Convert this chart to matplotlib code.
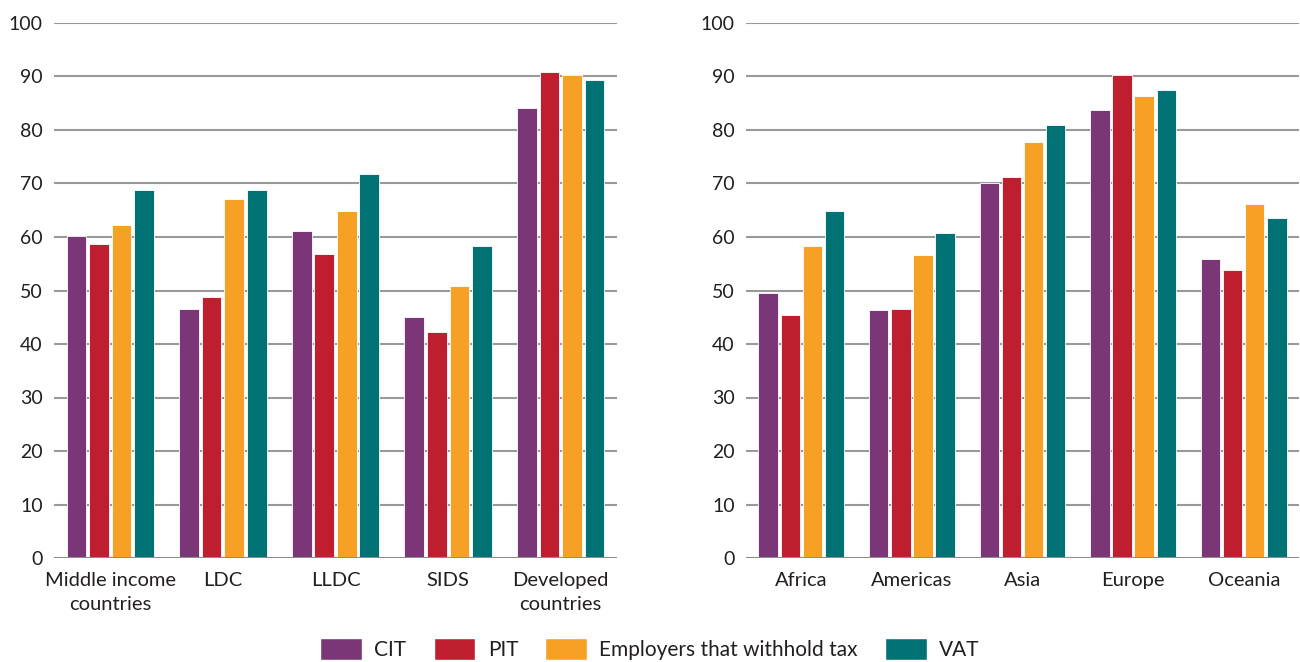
import numpy as np
import matplotlib
matplotlib.use("Agg")
import matplotlib.pyplot as plt
from matplotlib.patches import Patch

plt.rcParams['font.family'] = ['Lato', 'DejaVu Sans']

series = ["CIT", "PIT", "Employers that withhold tax", "VAT"]
colors = ["#7B3677", "#BE1E2D", "#F7A026", "#007274"]

groups_left = ["Middle income\ncountries", "LDC", "LLDC", "SIDS", "Developed\ncountries"]
left_cit = [60.1, 46.5, 61.1, 45.1, 84.1]
left_pit = [58.7, 48.7, 56.9, 42.2, 90.8]
left_emp = [62.3, 67.1, 64.9, 50.8, 90.2]
left_vat = [68.7, 68.7, 71.8, 58.4, 89.3]

groups_right = ["Africa", "Americas", "Asia", "Europe", "Oceania"]
right_cit = [49.5, 46.3, 70.0, 83.7, 55.8]
right_pit = [45.4, 46.5, 71.2, 90.2, 53.8]
right_emp = [58.3, 56.6, 77.7, 86.4, 66.1]
right_vat = [64.9, 60.7, 80.9, 87.5, 63.5]

yticks = [0, 10, 20, 30, 40, 50, 60, 70, 80, 90, 100]

fig = plt.figure(figsize=(13, 6.62), dpi=100)
ax_l = fig.add_axes([54/1300, 1-558/662, 563/1300, 535/662])
ax_r = fig.add_axes([746/1300, 1-558/662, 553/1300, 535/662])

pitch = 0.2
width = 0.175


def draw(ax, labels, values):
    x = np.arange(len(labels))
    for i, (vals, c) in enumerate(zip(values, colors)):
        ax.bar(x + (i - 1.5) * pitch, vals, width=width, color=c,
               edgecolor='white', linewidth=0.6, zorder=3)
    ax.set_xlim(-0.5, len(labels) - 0.5)
    ax.set_ylim(0, 100)
    ax.set_yticks(yticks)
    ax.set_xticks(x)
    ax.set_xticklabels(labels, fontsize=14.5, color='#231f20', linespacing=1.5)
    ax.tick_params(axis='both', length=0, colors='#231f20')
    ax.tick_params(axis='y', pad=8, labelsize=14)
    ax.tick_params(axis='x', pad=10)
    for s in ax.spines.values():
        s.set_visible(False)
    for t in yticks[1:]:
        ax.axhline(t, color='#999999', linewidth=1.5, zorder=1)
    ax.axhline(0, color='#8c8c8c', linewidth=2.2, zorder=4)


draw(ax_l, groups_left, [left_cit, left_pit, left_emp, left_vat])
draw(ax_r, groups_right, [right_cit, right_pit, right_emp, right_vat])

handles = [Patch(facecolor=c, edgecolor='white', label=s) for s, c in zip(series, colors)]
fig.legend(handles=handles, loc='center', bbox_to_anchor=(0.5, 1-649/662), ncol=4,
           frameon=False, fontsize=15, handlelength=2.0, handleheight=1.3,
           handletextpad=0.6, columnspacing=1.3, labelcolor='#231f20')

fig.savefig("out.png", dpi=100)
